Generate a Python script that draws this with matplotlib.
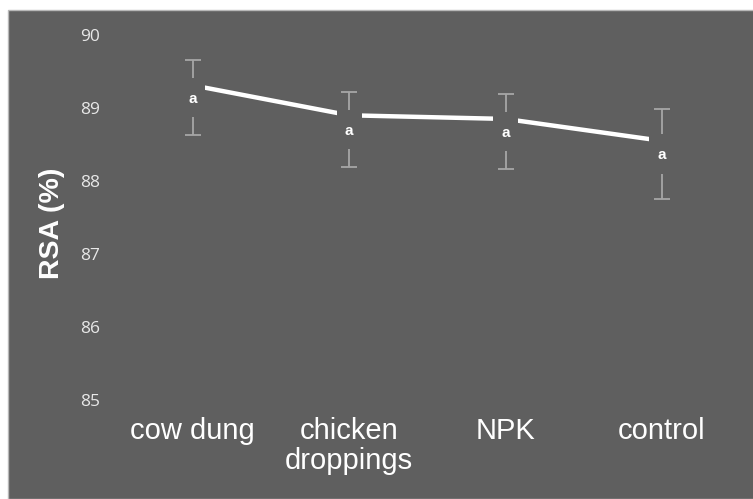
import matplotlib
matplotlib.use("Agg")
import matplotlib.pyplot as plt
from matplotlib.patches import Rectangle

# data
treatments = ["cow dung", "chicken\ndroppings", "NPK", "control"]
line_means = [89.31, 88.90, 88.85, 88.55]
bar_centers = [89.14, 88.705, 88.675, 88.37]
bar_errors = [0.515, 0.515, 0.515, 0.61]
letters = ["a", "a", "a", "a"]
y_ticks = [85, 86, 87, 88, 89, 90]

bg = "#5f5f5f"

fig = plt.figure(figsize=(7.53, 4.99), dpi=100)
fig.patch.set_facecolor("white")
frame = Rectangle((8 / 753, 0), 1, 1 - 10 / 499, transform=fig.transFigure,
                  facecolor=bg, edgecolor="#b8b8b8", linewidth=1, zorder=-10)
fig.add_artist(frame)

ax = fig.add_axes([0.146, 0.198, 0.837, 0.732])
ax.set_zorder(1)
ax.patch.set_alpha(0)

x = list(range(len(treatments)))
ax.plot(x, line_means, color="white", linewidth=3.2, solid_capstyle="butt", zorder=2)
ax.errorbar(x, bar_centers, yerr=bar_errors, fmt="none", ecolor="#a6a6a6",
            elinewidth=1.3, capsize=6, capthick=1.3, zorder=3)

for xi, yc, lab in zip(x, bar_centers, letters):
    ax.add_patch(Rectangle((xi - 0.08, yc - 0.27), 0.16, 0.54, facecolor=bg,
                           edgecolor="none", zorder=4))
    ax.text(xi, yc - 0.02, lab, color="white", fontsize=11, fontweight="bold",
            ha="center", va="center", zorder=5, family="Liberation Sans")

ax.set_xlim(-0.53, 3.5)
ax.set_ylim(85, 90)
ax.set_yticks(y_ticks)
ax.set_yticklabels([str(t) for t in y_ticks], color="#e8e8e8", fontsize=12.5,
                   family="Open Sans")
ax.set_xticks(x)
ax.set_xticklabels(treatments, color="white", fontsize=21, family="Liberation Sans",
                   linespacing=1.1)
ax.tick_params(axis="both", length=0)
ax.tick_params(axis="x", pad=12)
ax.tick_params(axis="y", pad=7)
for s in ax.spines.values():
    s.set_visible(False)

ax.set_ylabel("RSA (%)", color="white", fontsize=20.5, fontweight="bold",
              family="Liberation Sans")
ax.yaxis.set_label_coords(-0.072, 0.485)

fig.savefig("out.png", dpi=100, facecolor=fig.get_facecolor())
